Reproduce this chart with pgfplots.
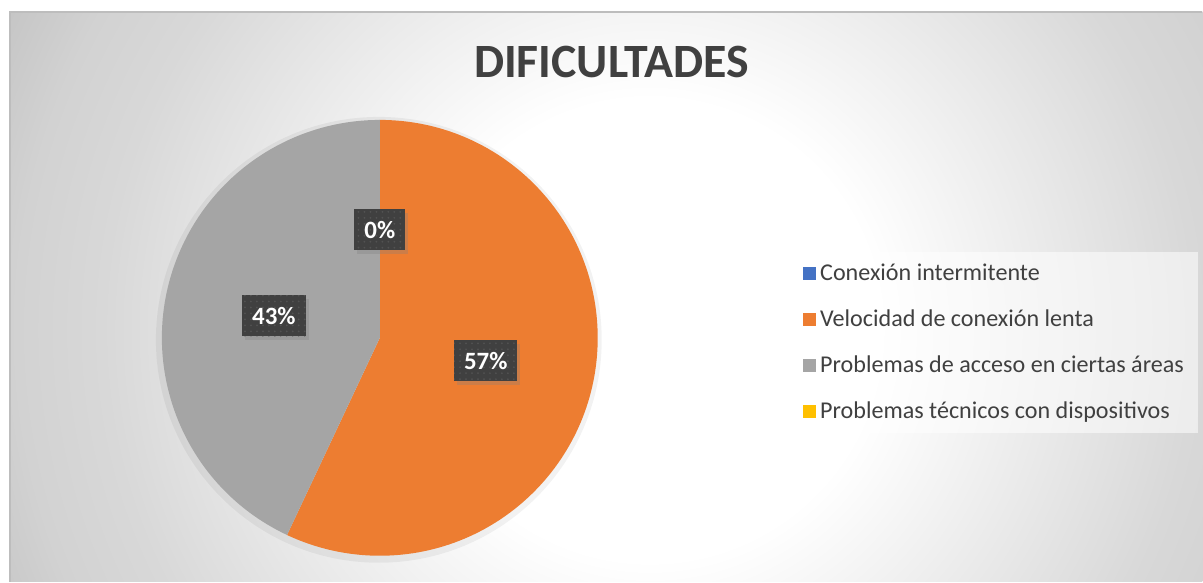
\documentclass[border=0pt]{standalone}
\usepackage{pgfplots}
\pgfplotsset{compat=1.18}
\usepackage{pgfplotstable}
\usepackage{fontspec}
\setmainfont{Carlito}
\usetikzlibrary{patterns,shadows}
\definecolor{cBlue}{HTML}{4472C4}
\definecolor{cOrange}{HTML}{ED7D31}
\definecolor{cGray}{HTML}{A5A5A5}
\definecolor{cYellow}{HTML}{FFC000}
\definecolor{cText}{HTML}{404040}
\definecolor{cLbl}{HTML}{404040}
\definecolor{cDot}{HTML}{525252}
\definecolor{bgA}{HTML}{D8D8D8}
\definecolor{bgB}{HTML}{D2D2D2}
\definecolor{bgEdge}{HTML}{C5C5C5}
\definecolor{cFrame}{HTML}{BDBDBD}
\pgfdeclareradialshading{bgshade}{\pgfpoint{0bp}{0bp}}{color(0bp)=(white); color(8bp)=(white); color(19bp)=(bgA); color(22bp)=(bgB); color(25bp)=(bgEdge); color(50bp)=(bgEdge)}
\tikzset{lbl/.style={fill=cLbl, text=white, font=\bfseries\fontsize{12.5}{14}\selectfont,
    inner xsep=5bp, inner ysep=0bp, minimum height=20.5bp,
    drop shadow={shadow xshift=1.5bp, shadow yshift=-2bp, opacity=0.3},
    postaction={pattern=dots, pattern color=cDot}}}

\pgfplotstableread{
idx value
0 0
1 57
2 43
3 0
}\piedata
\pgfplotstablegetelem{0}{value}\of\piedata \let\vA\pgfplotsretval
\pgfplotstablegetelem{1}{value}\of\piedata \let\vB\pgfplotsretval
\pgfplotstablegetelem{2}{value}\of\piedata \let\vC\pgfplotsretval
\pgfplotstablegetelem{3}{value}\of\piedata \let\vD\pgfplotsretval
\pgfmathsetmacro{\aA}{90-3.6*\vA}
\pgfmathsetmacro{\aB}{\aA-3.6*\vB}
\pgfmathsetmacro{\aC}{\aB-3.6*\vC}
\pgfmathsetmacro{\aD}{\aC-3.6*\vD}

\begin{document}
\begin{tikzpicture}
\begin{axis}[
  x=0.5bp, y=0.5bp, xmin=0, xmax=1203, ymin=0, ymax=582,
  scale only axis, hide axis, clip=false, anchor=origin, at={(0,0)},
  legend style={at={(axis cs:793,330)}, anchor=north west, draw=none,
    fill=white, fill opacity=0.55, text opacity=1, text=cText,
    font=\fontsize{12.1}{14}\selectfont, row sep=9.1bp,
    inner xsep=5bp, inner ysep=3.8bp, cells={anchor=west},
    /tikz/every even column/.append style={column sep=2.5bp}},
  legend image code/.code={\fill[#1, fill opacity=1, draw=none] (0bp,-3.3bp) rectangle (6.6bp,3.3bp);},
]
\fill[white] (axis cs:0,0) rectangle (axis cs:1203,582);
\begin{scope}
\clip (axis cs:10,0) rectangle (axis cs:1203,570);
\shade[shading=bgshade] (axis cs:-70,-468) rectangle (axis cs:1370,972);
\end{scope}
\draw[cFrame, line width=0.6bp] (axis cs:10,0) -- (axis cs:10,570) -- (axis cs:1203,570);
% pie
\fill[black, opacity=0.05] (axis cs:379,242) circle[radius=111.5bp];
\fill[cBlue]   (axis cs:380,244) -- ++(90:109bp) arc[start angle=90, end angle=\aA, radius=109bp] -- cycle;
\fill[cOrange] (axis cs:380,244) -- ++(\aA:109bp) arc[start angle=\aA, end angle=\aB, radius=109bp] -- cycle;
\fill[cGray]   (axis cs:380,244) -- ++(\aB:109bp) arc[start angle=\aB, end angle=\aC, radius=109bp] -- cycle;
% title
\node[font=\bfseries\fontsize{24}{28}\selectfont, text=cText] at (axis cs:612,520) {DIFICULTADES};
% labels
\node[lbl] at (axis cs:380,352) {\vA\%};
\node[lbl] at (axis cs:486,221) {\vB\%};
\node[lbl] at (axis cs:274,266) {\vC\%};
% legend
\addlegendimage{fill=cBlue}
\addlegendentry{Conexión intermitente}
\addlegendimage{fill=cOrange}
\addlegendentry{Velocidad de conexión lenta}
\addlegendimage{fill=cGray}
\addlegendentry{Problemas de acceso en ciertas áreas}
\addlegendimage{fill=cYellow}
\addlegendentry{Problemas técnicos con dispositivos}
\end{axis}
\end{tikzpicture}
\end{document}
